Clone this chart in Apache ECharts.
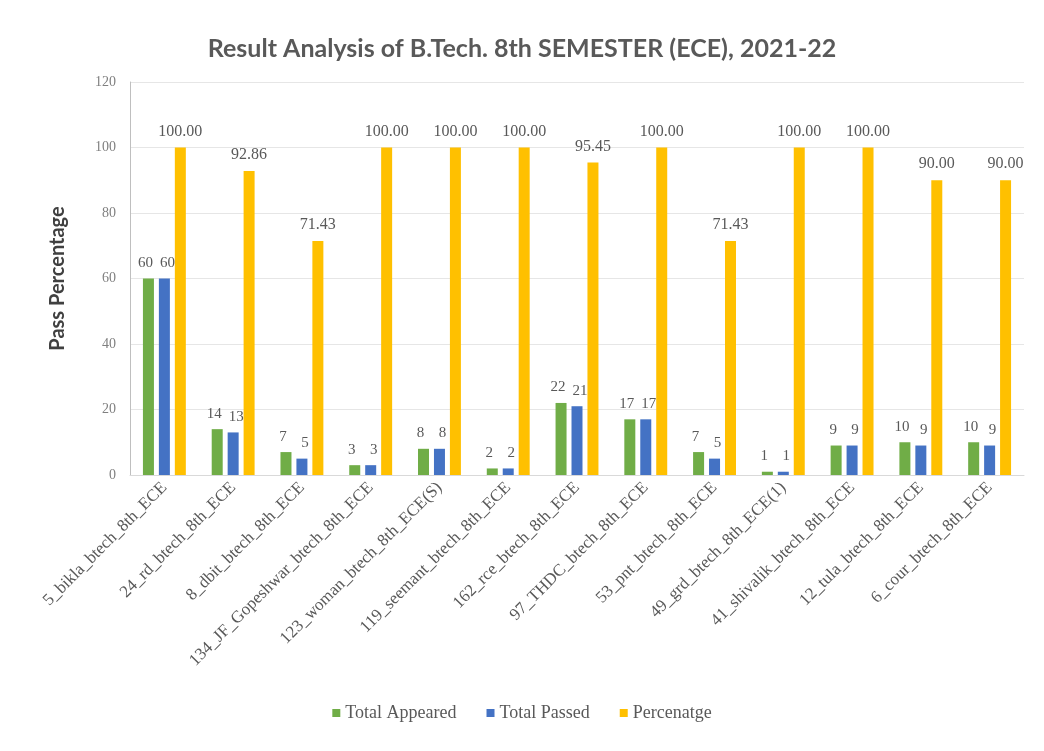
<!DOCTYPE html>
<html>
<head>
<meta charset="utf-8">
<script src="https://cdn.jsdelivr.net/npm/echarts@6/dist/echarts.min.js"></script>
<style>
  html, body { margin: 0; padding: 0; background: #fff; }
  #chart { width: 1044px; height: 751px; }
</style>
</head>
<body>
<div id="chart"></div>
<script>
// 数据
const categories = [
  "5_bikla_btech_8th_ECE",
  "24_rd_btech_8th_ECE",
  "8_dbit_btech_8th_ECE",
  "134_JF_Gopeshwar_btech_8th_ECE",
  "123_woman_btech_8th_ECE(S)",
  "119_seemant_btech_8th_ECE",
  "162_rce_btech_8th_ECE",
  "97_THDC_btech_8th_ECE",
  "53_pnt_btech_8th_ECE",
  "49_grd_btech_8th_ECE(1)",
  "41_shivalik_btech_8th_ECE",
  "12_tula_btech_8th_ECE",
  "6_cour_btech_8th_ECE"
];
const totalAppeared = [60, 14, 7, 3, 8, 2, 22, 17, 7, 1, 9, 10, 10];
const totalPassed = [60, 13, 5, 3, 8, 2, 21, 17, 5, 1, 9, 9, 9];
const percentage = [100, 92.86, 71.43, 100, 100, 100, 95.45, 100, 71.43, 100, 100, 90, 90];
const yTicks = [0, 20, 40, 60, 80, 100, 120];

(function () {
  let myChart = echarts.init(document.getElementById("chart"));
  const serif = "Liberation Serif";
  // 柱子顶部数值
  const labelStyle = {
    show: true,
    position: "top",
    distance: 8,
    color: "#595959",
    fontFamily: serif,
    fontSize: 15
  };
  let option = {
    color: ["#70AD47", "#4472C4", "#FFC000"],
    animation: false,
    title: {
      text: "Result Analysis of B.Tech. 8th SEMESTER (ECE), 2021-22",
      left: "center",
      top: 31,
      textStyle: {
        color: "#595959",
        fontFamily: "Lato",
        fontWeight: "bold",
        fontSize: 25
      }
    },
    legend: {
      bottom: 24,
      left: "center",
      itemWidth: 8,
      itemHeight: 8,
      itemGap: 30,
      icon: "rect",
      textStyle: {
        color: "#595959",
        fontFamily: serif,
        fontSize: 18
      }
    },
    grid: {
      top: 82,
      left: 130,
      right: 20,
      height: 393
    },
    xAxis: {
      type: "category",
      data: categories,
      axisTick: { show: false },
      axisLine: { lineStyle: { color: "#d9d9d9" } },
      axisLabel: {
        rotate: 45,
        interval: 0,
        margin: 10,
        color: "#595959",
        fontFamily: serif,
        fontSize: 17
      }
    },
    yAxis: {
      type: "value",
      min: yTicks[0],
      max: yTicks[yTicks.length - 1],
      interval: yTicks[1] - yTicks[0],
      name: "Pass Percentage",
      nameLocation: "middle",
      nameGap: 62,
      nameTextStyle: {
        color: "#404040",
        fontFamily: "Lato",
        fontWeight: "bold",
        fontSize: 20
      },
      axisLine: { show: true, lineStyle: { color: "#bfbfbf" } },
      axisTick: { show: false },
      axisLabel: {
        color: "#7f7f7f",
        fontFamily: serif,
        fontSize: 14,
        margin: 14
      },
      splitLine: { lineStyle: { color: "#e6e6e6" } }
    },
    series: [
      {
        name: "Total Appeared",
        type: "bar",
        data: totalAppeared,
        barWidth: 11,
        barGap: "45%",
        label: Object.assign({}, labelStyle, { offset: [-3, 0] })
      },
      {
        name: "Total Passed",
        type: "bar",
        data: totalPassed,
        barWidth: 11,
        barGap: "45%",
        label: Object.assign({}, labelStyle, { offset: [3, 0] })
      },
      {
        name: "Percenatge",
        type: "bar",
        data: percentage,
        barWidth: 11,
        barGap: "45%",
        label: Object.assign({}, labelStyle, {
          fontSize: 16,
          formatter: function (p) { return p.value.toFixed(2); }
        })
      }
    ]
  };
  myChart.setOption(option);
  window.addEventListener("resize", function () {
    myChart.resize();
  });
})();
</script>
</body>
</html>
